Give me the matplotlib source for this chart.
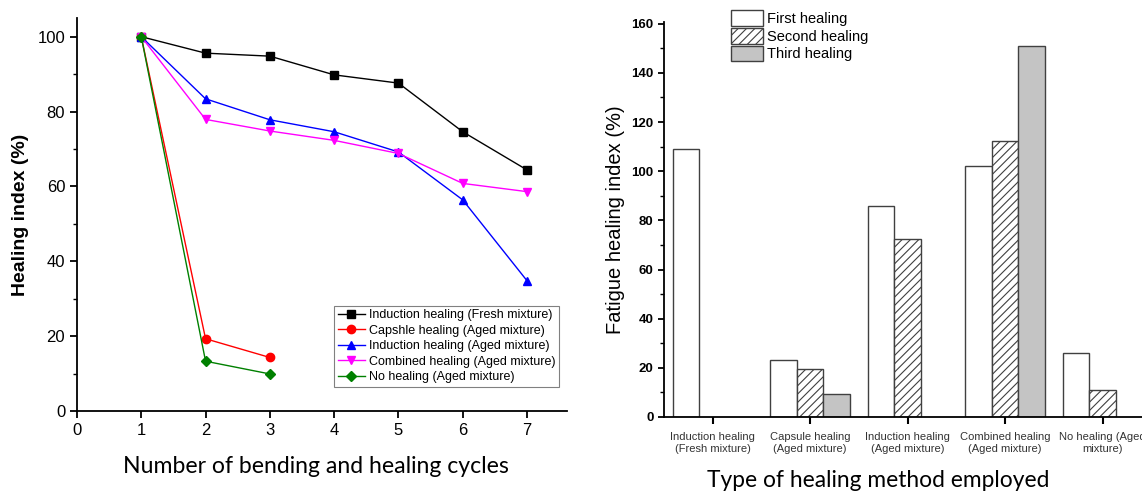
import matplotlib
matplotlib.use('Agg')
import matplotlib.pyplot as plt
import numpy as np

plt.rcParams['font.family'] = ['Liberation Sans', 'DejaVu Sans']
plt.rcParams['hatch.color'] = '#555555'
plt.rcParams['hatch.linewidth'] = 0.8

# cycle test data
cycles = [1, 2, 3, 4, 5, 6, 7]
fresh_induction = [100, 95.6, 94.8, 89.8, 87.6, 74.6, 64.4]
capsule_aged = [100, 19.3, 14.3]
induction_aged = [100, 83.4, 77.8, 74.6, 69.2, 56.4, 34.8]
combined_aged = [100, 77.9, 74.8, 72.3, 68.8, 60.8, 58.6]
no_healing_aged = [100, 13.3, 9.9]

# fatigue healing index per method
methods = ['Induction healing\n(Fresh mixture)', 'Capsule healing\n(Aged mixture)',
           'Induction healing\n(Aged mixture)', 'Combined healing\n(Aged mixture)',
           'No healing (Aged\nmixture)']
first_heal = [109, 23, 86, 102, 26]
second_heal = [np.nan, 19.4, 72.5, 112.4, 11.1]
third_heal = [np.nan, 9.4, np.nan, 150.8, np.nan]

fig = plt.figure(figsize=(11.42, 4.95), dpi=100)

# ---- left: healing index vs cycles ----
ax1 = fig.add_axes([0.0674, 0.1697, 0.429, 0.794])
series = [
    (fresh_induction, 'black', 's', 'Induction healing (Fresh mixture)'),
    (capsule_aged, 'red', 'o', 'Capshle healing (Aged mixture)'),
    (induction_aged, 'blue', '^', 'Induction healing (Aged mixture)'),
    (combined_aged, 'magenta', 'v', 'Combined healing (Aged mixture)'),
    (no_healing_aged, 'green', 'D', 'No healing (Aged mixture)'),
]
for vals, c, m, lab in series:
    ms = 5 if m == 'D' else 6
    ax1.plot(cycles[:len(vals)], vals, color=c, marker=m, ms=ms, lw=1, label=lab)

ax1.set_xlim(0, 7.62)
ax1.set_ylim(0, 105)
ax1.set_xticks(range(0, 8))
ax1.set_yticks(range(0, 101, 20))
ax1.set_yticks(range(10, 100, 20), minor=True)
for s in ['top', 'right']:
    ax1.spines[s].set_visible(False)
for s in ['left', 'bottom']:
    ax1.spines[s].set_linewidth(1.3)
ax1.tick_params(axis='both', which='major', direction='out', length=5, width=1.3,
                labelsize=12, colors='black')
ax1.tick_params(axis='y', which='minor', direction='out', length=3, width=1)
ax1.set_ylabel('Healing index (%)', fontsize=14, fontweight='bold', labelpad=6)
ax1.set_xlabel('Number of bending and healing cycles', fontsize=16.6,
               family=['Lato', 'DejaVu Sans'])
ax1.xaxis.set_label_coords(0.488, -0.115)
leg = ax1.legend(loc='lower right', bbox_to_anchor=(0.997, 0.045), fontsize=9,
                 fancybox=False, edgecolor='gray', framealpha=1, handlelength=2.2,
                 borderpad=0.3, labelspacing=0.28, handletextpad=0.3)
leg.get_frame().set_linewidth(0.8)

# ---- right: fatigue healing index bars ----
ax2 = fig.add_axes([0.5814, 0.1576, 0.4269, 0.7970])
x = np.arange(1, len(methods) + 1)
w = 0.272
edge = '#404040'
ax2.bar(x - w, first_heal, w, color='white', edgecolor=edge, lw=1, label='First healing')
ax2.bar(x, second_heal, w, color='white', edgecolor=edge, lw=1, hatch='////',
        label='Second healing')
ax2.bar(x + w, third_heal, w, color='#c4c4c4', edgecolor=edge, lw=1, label='Third healing')

ax2.set_xlim(0.5, 5.5)
ax2.set_ylim(0, 160.5)
ax2.set_xticks(x)
ax2.set_xticklabels(methods, fontsize=8, color='#333333')
ax2.set_yticks(range(0, 161, 20))
ax2.set_yticks(range(10, 160, 20), minor=True)
for s in ['top', 'right']:
    ax2.spines[s].set_visible(False)
for s in ['left', 'bottom']:
    ax2.spines[s].set_linewidth(1.3)
ax2.tick_params(axis='x', which='major', direction='out', length=5, width=1.5, pad=6)
ax2.tick_params(axis='y', which='major', direction='out', length=4, width=1.3, labelsize=9.5)
ax2.tick_params(axis='y', which='minor', direction='out', length=3, width=1)
for t in ax2.get_yticklabels():
    t.set_fontweight('bold')
ax2.set_ylabel('Fatigue healing index (%)', fontsize=14.5)
ax2.yaxis.set_label_coords(-0.08, 0.5)
ax2.set_xlabel('Type of healing method employed', fontsize=16.4,
               family=['Lato', 'DejaVu Sans'])
ax2.xaxis.set_label_coords(0.439, -0.135)
leg2 = ax2.legend(loc='upper left', bbox_to_anchor=(0.6324, 0.997),
                  bbox_transform=fig.transFigure, fontsize=10.5, fancybox=False,
                  frameon=False, handlelength=2.2, handleheight=1.3,
                  labelspacing=0.12, handletextpad=0.3, borderpad=0.1)

fig.savefig('out.png', dpi=100, facecolor='white')
